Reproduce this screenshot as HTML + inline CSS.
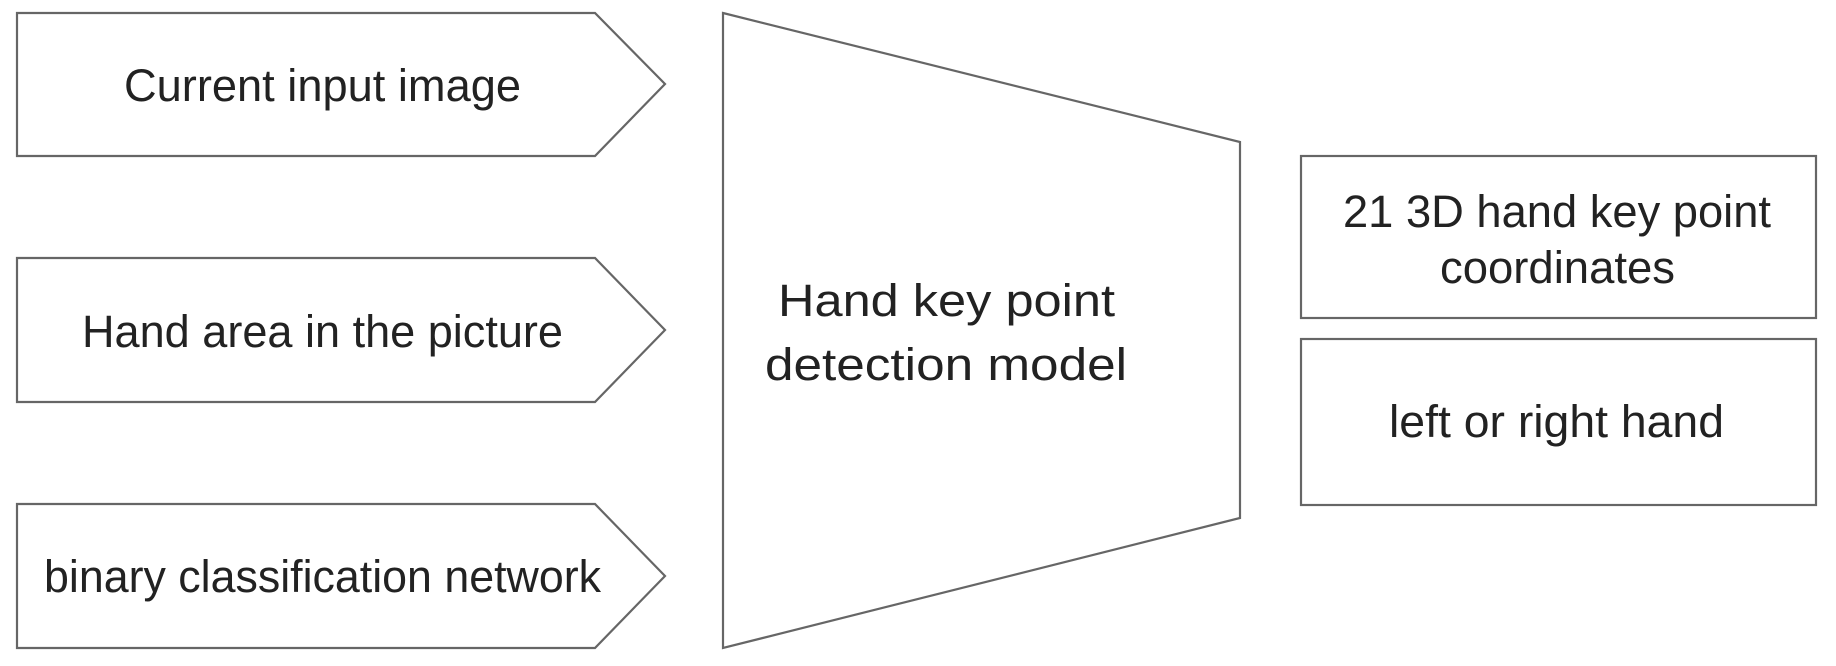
<!DOCTYPE html>
<html><head><meta charset="utf-8"><style>
html,body{margin:0;padding:0;background:#fff;}
svg{display:block;}
text{font-family:"Liberation Sans",sans-serif;font-size:45px;fill:#222;}
</style></head><body>
<svg width="1836" height="666" viewBox="0 0 1836 666">
<g fill="#fff" stroke="#666" stroke-width="2.2" stroke-linejoin="miter">
<polygon points="17,13 595,13 665,84 595,156 17,156"/>
<polygon points="17,258 595,258 665,330 595,402 17,402"/>
<polygon points="17,504 595,504 665,576 595,648 17,648"/>
<polygon points="723,13 1240,142 1240,518 723,648"/>
<rect x="1301" y="156" width="515" height="162"/>
<rect x="1301" y="339" width="515" height="166"/>
</g>
<text x="124" y="101" textLength="397" lengthAdjust="spacingAndGlyphs">Current input image</text>
<text x="82" y="347" textLength="481" lengthAdjust="spacingAndGlyphs">Hand area in the picture</text>
<text x="44" y="592" textLength="557" lengthAdjust="spacingAndGlyphs">binary classification network</text>
<text x="778" y="316" textLength="337" lengthAdjust="spacingAndGlyphs">Hand key point</text>
<text x="765" y="380" textLength="362" lengthAdjust="spacingAndGlyphs">detection model</text>
<text x="1343" y="227" textLength="428" lengthAdjust="spacingAndGlyphs">21 3D hand key point</text>
<text x="1440" y="283" textLength="235" lengthAdjust="spacingAndGlyphs">coordinates</text>
<text x="1389" y="437" textLength="335" lengthAdjust="spacingAndGlyphs">left or right hand</text>
</svg>
</body></html>
